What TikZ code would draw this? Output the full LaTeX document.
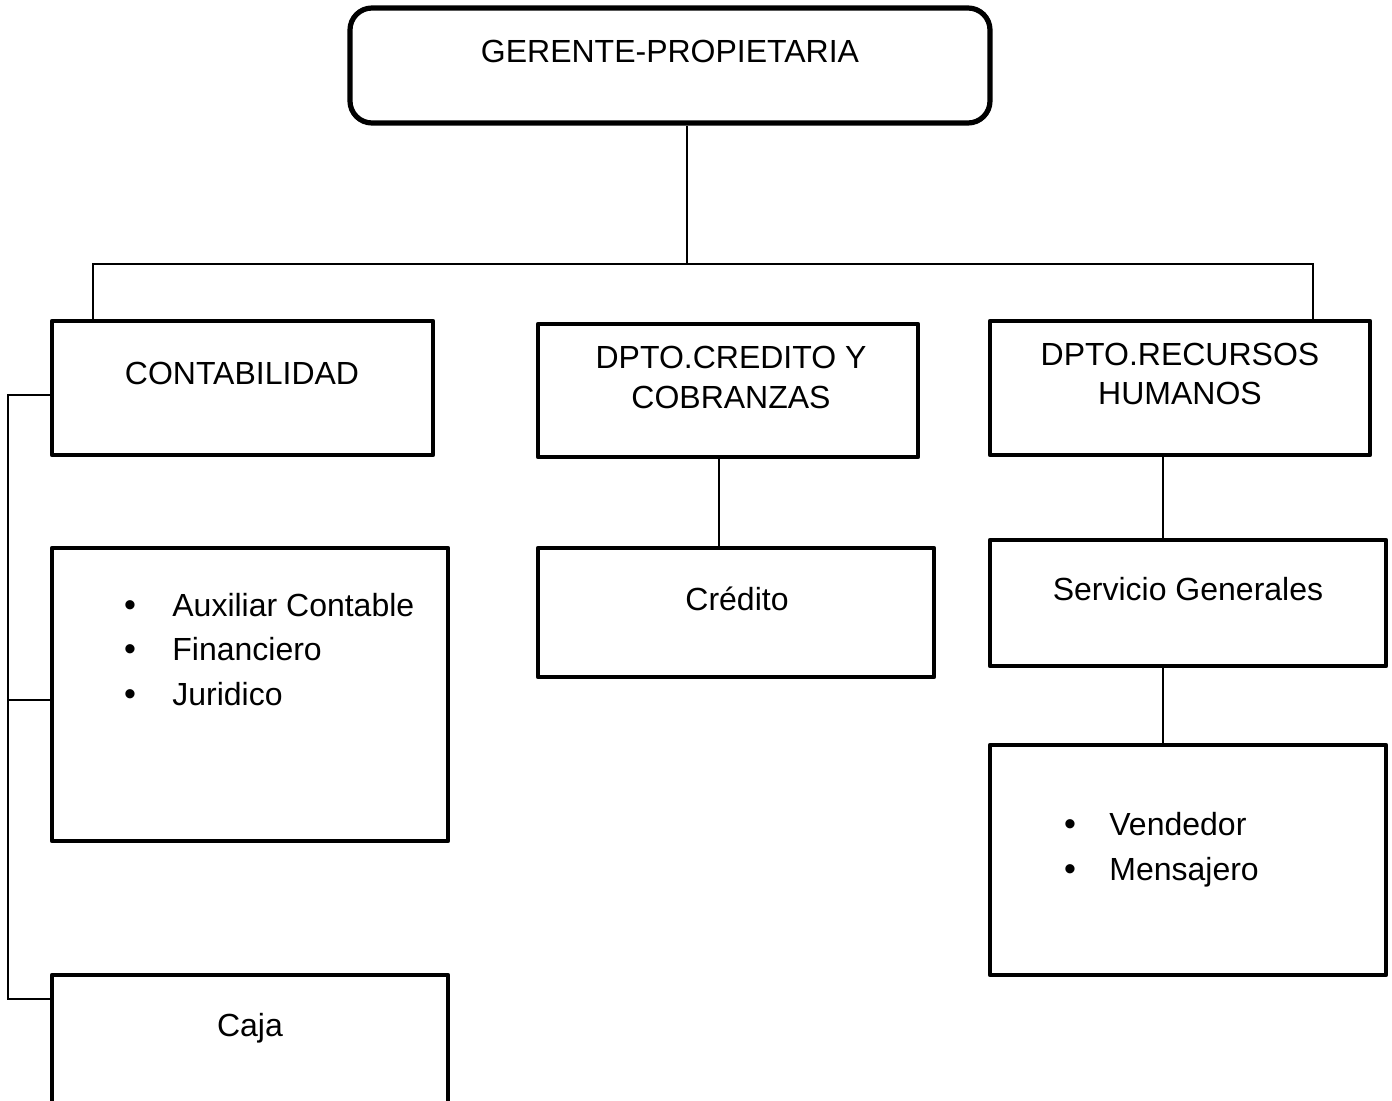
\documentclass[tikz,border=0pt]{standalone}
\usepackage{fontspec}
\setmainfont{Liberation Sans}
\begin{document}
\begin{tikzpicture}[x=0.5pt,y=-0.5pt,
  unitbox/.style={draw=black,line width=2.3pt,line join=round,fill=white,inner sep=0pt},
  link/.style={draw=black,line width=0.8pt},
  lbl/.style={anchor=base,inner sep=0pt,font=\fontsize{16pt}{20pt}\selectfont},
  item/.style={anchor=base west,inner sep=0pt,font=\fontsize{16pt}{20pt}\selectfont},
  dot/.style={anchor=base,inner sep=0pt,font=\fontsize{17pt}{20pt}\selectfont}]
\useasboundingbox[fill=white] (0,0) rectangle (1392,1101);

% boxes
\node[unitbox,line width=2.6pt,rounded corners=11pt,minimum width=320pt,minimum height=57.5pt] (top) at (670,65.5) {};
\node[unitbox,minimum width=190.5pt,minimum height=67pt] (cont) at (242.5,388) {};
\node[unitbox,minimum width=198pt,minimum height=146.5pt] (aux) at (250,694.5) {};
\node[unitbox,minimum width=198pt,minimum height=70pt] (caja) at (250,1045) {};
\node[unitbox,minimum width=190pt,minimum height=66.5pt] (cred) at (728,390.5) {};
\node[unitbox,minimum width=198pt,minimum height=64.5pt] (credito) at (736,612.5) {};
\node[unitbox,minimum width=190pt,minimum height=67pt] (rrhh) at (1180,388) {};
\node[unitbox,minimum width=198pt,minimum height=63pt] (serv) at (1188,603) {};
\node[unitbox,minimum width=198pt,minimum height=115pt] (vend) at (1188,860) {};

% texts
\node[lbl] (tTop) at (670,63) {GERENTE-PROPIETARIA};
\node[lbl] (tCont) at (242,385) {CONTABILIDAD};
\node[lbl] (tCred1) at (731,369) {DPTO.CREDITO Y};
\node[lbl] (tCred2) at (731,409) {COBRANZAS};
\node[lbl] (tCredito) at (737,610) {Crédito};
\node[lbl] (tRrhh1) at (1180,366) {DPTO.RECURSOS};
\node[lbl] (tRrhh2) at (1180,405) {HUMANOS};
\node[lbl] (tServ) at (1188,600) {Servicio Generales};
\node[lbl] (tCaja) at (250,1036) {Caja};

% bulleted lists
\node[dot] (b1) at (130,616) {•};
\node[dot] (b2) at (130,660) {•};
\node[dot] (b3) at (130,705) {•};
\node[item] (i1) at (172,616) {Auxiliar Contable};
\node[item] (i2) at (172,660) {Financiero};
\node[item] (i3) at (172,705) {Juridico};
\node[dot] (b4) at (1070,835) {•};
\node[dot] (b5) at (1070,880) {•};
\node[item] (i4) at (1109,835) {Vendedor};
\node[item] (i5) at (1109,880) {Mensajero};

% connector junctions
\coordinate (stem) at (687,264);
\coordinate (barL) at (93,264);
\coordinate (barR) at (1313,264);
\coordinate (j1) at (8,395);
\coordinate (j2) at (8,700);
\coordinate (j3) at (8,999);
\coordinate (cx) at (719,0);
\coordinate (rx) at (1163,0);

% connectors
\draw[link] (top.south -| stem) -- (stem);
\draw[link] (cont.north -| barL) |- (barR) -- (rrhh.north -| barR);
\draw[link] (j1 -| cont.west) -- (j1) -- (j3) -- (j3 -| caja.west);
\draw[link] (j2) -- (j2 -| aux.west);
\draw[link] (cred.south -| cx) -- (credito.north -| cx);
\draw[link] (rrhh.south -| rx) -- (serv.north -| rx);
\draw[link] (serv.south -| rx) -- (vend.north -| rx);
\end{tikzpicture}
\end{document}
